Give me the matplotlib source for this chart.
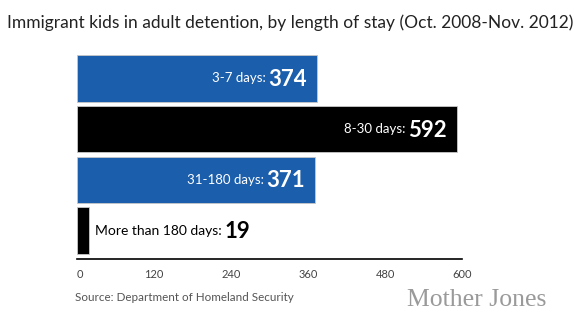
import matplotlib
matplotlib.use('Agg')
import matplotlib.pyplot as plt

# data
categories = ['3-7 days:', '8-30 days:', '31-180 days:', 'More than 180 days:']
counts = [374, 592, 371, 19]
bar_colors = ['#1b5eab', '#000000', '#1b5eab', '#000000']
ticks = [0, 120, 240, 360, 480, 600]

plt.rcParams['font.family'] = ['Lato', 'DejaVu Sans']

fig = plt.figure(figsize=(5.75, 3.22), dpi=100)
ax = fig.add_axes([0.134, 0.196, 0.670, 0.642])

y = list(range(len(counts)))
ax.barh(y, counts, height=0.92, color=bar_colors, edgecolor='#c8c8c8', linewidth=0.6)
ax.set_xlim(0, 600)
ax.set_ylim(3.55, -0.51)

for s in ['top', 'right', 'left']:
    ax.spines[s].set_visible(False)
ax.spines['bottom'].set_linewidth(1.2)
ax.set_yticks([])
ax.set_xticks(ticks)
ax.set_xticklabels([str(t) for t in ticks], fontsize=8, color='#444444')
ax.tick_params(axis='x', length=0, pad=7)
ax.get_xticklabels()[0].set_horizontalalignment('left')

fig.canvas.draw()
renderer = fig.canvas.get_renderer()

# labels: light category text followed by bold count
for i, (cat, val) in enumerate(zip(categories, counts)):
    if val > 100:
        num = ax.annotate(str(val), xy=(val, i), xytext=(-10, -1), textcoords='offset pixels',
                          ha='right', va='center', fontsize=16, fontweight='bold', color='white')
        w = num.get_window_extent(renderer).width
        ax.annotate(cat, xy=(val, i), xytext=(-10 - w - 3, 0), textcoords='offset pixels',
                    ha='right', va='center', fontsize=9.5, color='white')
    else:
        lab = ax.annotate(cat, xy=(val, i), xytext=(6, 0), textcoords='offset pixels',
                          ha='left', va='center', fontsize=10, color='black')
        w = lab.get_window_extent(renderer).width
        ax.annotate(str(val), xy=(val, i), xytext=(6 + w + 3, -1), textcoords='offset pixels',
                    ha='left', va='center', fontsize=16, fontweight='bold', color='black')

fig.text(0.012, 0.93, 'Immigrant kids in adult detention, by length of stay (Oct. 2008-Nov. 2012)',
         fontsize=12.5, color='#222222', ha='left', va='center')
fig.text(0.13, 0.075, 'Source: Department of Homeland Security', fontsize=8.4, color='#555555',
         ha='left', va='center')
fig.text(0.95, 0.068, 'Mother Jones', fontsize=18.5, color='#9a9a9a', ha='right', va='center',
         family=['Liberation Serif', 'DejaVu Serif'])

fig.savefig('out.png', dpi=100)
